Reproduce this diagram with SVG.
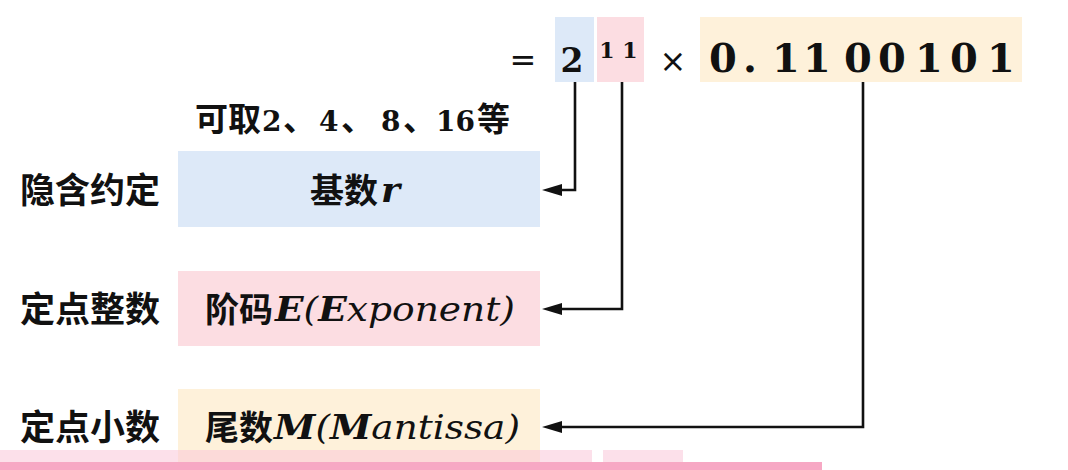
<svg xmlns="http://www.w3.org/2000/svg" width="1068" height="470" viewBox="0 0 1068 470">
<style>
.cjk{font-family:"Noto Sans CJK SC","Noto Sans",sans-serif;font-weight:bold;fill:#111;}
.num{font-family:"DejaVu Serif","Liberation Serif",serif;font-weight:bold;fill:#111;}
.it{font-family:"DejaVu Serif","Liberation Serif",serif;font-style:italic;fill:#111;}
.itb{font-weight:bold;}
.op{font-family:"DejaVu Sans","Liberation Sans",sans-serif;fill:#111;}
.blue{fill:#dde9f8;}
.pink{fill:#fcdde2;}
.orange{fill:#fef1da;}
.conn{fill:none;stroke:#111;stroke-width:2.6;}
</style>
<defs>
<marker id="arr" markerUnits="userSpaceOnUse" markerWidth="20" markerHeight="12" refX="12" refY="6" orient="auto">
<path d="M0,0 L20,6 L0,12 z" fill="#111"/>
</marker>
</defs>
<rect width="1068" height="470" fill="#fff"/>

<g id="formula">
<rect class="blue" x="555" y="17" width="39" height="65"/>
<rect class="pink" x="597" y="17" width="47" height="65"/>
<rect class="orange" x="700" y="17" width="322" height="65"/>
<text class="op" x="523" y="71" font-size="32" text-anchor="middle">=</text>
<text class="num" x="572" y="72" font-size="33" text-anchor="middle">2</text>
<text class="num" font-size="22" y="58" text-anchor="middle"><tspan x="607">1</tspan><tspan x="630">1</tspan></text>
<text class="op" x="673" y="72" font-size="32" text-anchor="middle">×</text>
<text class="num" font-size="40" y="72" text-anchor="middle"><tspan x="723">0</tspan><tspan x="750">.</tspan><tspan x="786">1</tspan><tspan x="817">1</tspan><tspan x="858">0</tspan><tspan x="892">0</tspan><tspan x="929">1</tspan><tspan x="964">0</tspan><tspan x="1001">1</tspan></text>
</g>

<g id="note">
<text y="131" font-size="33"><tspan class="cjk" x="195">可取</tspan><tspan class="num" x="262" font-size="28">2</tspan><tspan class="cjk" x="283">、</tspan><tspan class="num" x="319" font-size="28">4</tspan><tspan class="cjk" x="341">、</tspan><tspan class="num" x="381" font-size="28">8</tspan><tspan class="cjk" x="403">、</tspan><tspan class="num" x="436" font-size="28">16</tspan><tspan class="cjk" x="477">等</tspan></text>
</g>

<g id="radix">
<text class="cjk" x="20" y="203" font-size="35">隐含约定</text>
<rect class="blue" x="178" y="151" width="362" height="76"/>
<text class="cjk" x="310" y="203" font-size="34">基数</text>
<text class="it itb" x="381" y="202" font-size="36">r</text>
</g>

<g id="exponent">
<text class="cjk" x="20" y="322" font-size="35">定点整数</text>
<rect class="pink" x="178" y="271" width="362" height="75"/>
<text class="cjk" x="205" y="322" font-size="34">阶码</text>
<text class="it" x="275" y="321" font-size="34" textLength="240" lengthAdjust="spacingAndGlyphs"><tspan class="itb">E</tspan>(<tspan class="itb">E</tspan>xponent)</text>
</g>

<g id="mantissa">
<text class="cjk" x="20" y="440" font-size="35">定点小数</text>
<rect class="orange" x="178" y="389" width="362" height="76"/>
<text class="cjk" x="205" y="440" font-size="34">尾数</text>
<text class="it" x="274" y="439" font-size="34" textLength="246" lengthAdjust="spacingAndGlyphs"><tspan class="itb">M</tspan>(<tspan class="itb">M</tspan>antissa)</text>
</g>

<g id="connectors">
<path class="conn" d="M575,82 V190 H550" marker-end="url(#arr)"/>
<path class="conn" d="M622,82 V309 H550" marker-end="url(#arr)"/>
<path class="conn" d="M863,82 V427 H550" marker-end="url(#arr)"/>
</g>

<g id="bottom-strip">
<rect x="0" y="450" width="592" height="12" fill="#f9c6d8" opacity="0.55"/>
<rect x="603" y="450" width="80" height="12" fill="#f9c6d8" opacity="0.55"/>
<rect x="0" y="462" width="822" height="8" fill="#f7a8c4"/>
</g>
</svg>
